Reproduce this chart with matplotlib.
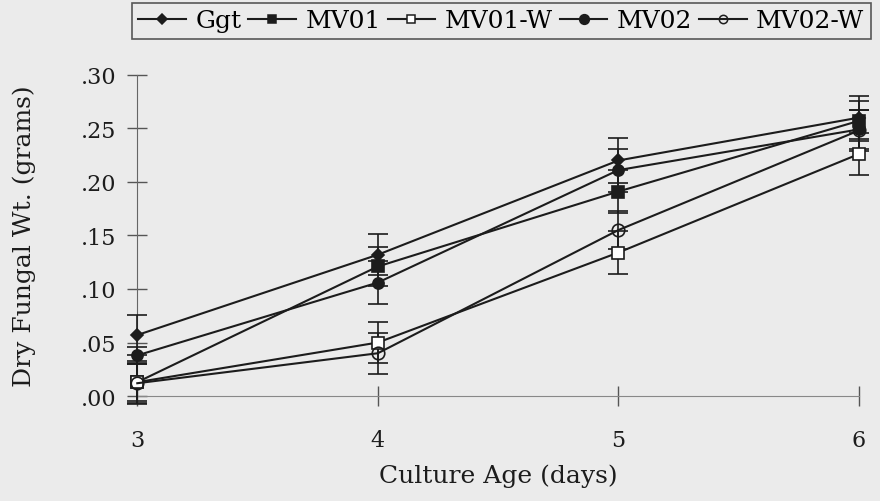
import matplotlib.pyplot as plt
from matplotlib.lines import Line2D

days = [3, 4, 5, 6]
ggt = [0.057, 0.132, 0.220, 0.260]
mv01 = [0.013, 0.121, 0.191, 0.257]
mv01w = [0.013, 0.050, 0.134, 0.226]
mv02 = [0.038, 0.106, 0.211, 0.249]
mv02w = [0.012, 0.040, 0.155, 0.248]

ggt_err = [0.019, 0.019, 0.021, 0.020]
mv01_err = [0.018, 0.018, 0.020, 0.019]
mv01w_err = [0.020, 0.019, 0.020, 0.020]
mv02_err = [0.008, 0.020, 0.020, 0.018]
mv02w_err = [0.018, 0.019, 0.018, 0.019]

yticks = [0.0, 0.05, 0.10, 0.15, 0.20, 0.25, 0.30]
ytick_labels = [".00", ".05", ".10", ".15", ".20", ".25", ".30"]

plt.rcParams['font.family'] = ['DejaVu Serif']
bg = "#ebebeb"
ink = "#1c1c1c"

fig = plt.figure(figsize=(8.8, 5.02), dpi=100, facecolor=bg)
ax = fig.add_axes([0.156, 0.209, 0.820, 0.640], facecolor=bg)

# name, values, errors, marker, size in plot, face, size in legend
series = [
    ("Ggt", ggt, ggt_err, "D", 6, ink, 5),
    ("MV01", mv01, mv01_err, "s", 8, ink, 6),
    ("MV01-W", mv01w, mv01w_err, "s", 9, "white", 6),
    ("MV02", mv02, mv02_err, "o", 8, ink, 7),
    ("MV02-W", mv02w, mv02w_err, "o", 9, "none", 6),
]

handles = []
for name, vals, err, mk, ms, face, lms in series:
    ax.errorbar(days, vals, yerr=err, color=ink, lw=1.5, capsize=7, capthick=1.2,
                elinewidth=1.2, marker=mk, markersize=ms, markerfacecolor=face,
                markeredgecolor=ink, markeredgewidth=1.2, clip_on=False, zorder=3)
    handles.append(Line2D([], [], color=ink, lw=1.5, marker=mk, markersize=lms,
                          markerfacecolor=face, markeredgecolor=ink,
                          markeredgewidth=1.1, label=name))

ax.set_xlim(3, 6)
ax.set_ylim(0, 0.30)
ax.set_xticks(days)
ax.set_yticks(yticks)
ax.set_yticklabels(ytick_labels)
for s in ["top", "right"]:
    ax.spines[s].set_visible(False)
ax.spines["left"].set_color("#666666")
ax.spines["bottom"].set_color("#888888")
ax.tick_params(axis="both", direction="inout", length=14, width=1, color="#555555",
               labelsize=16, labelcolor=ink)
ax.tick_params(axis="x", pad=17)
ax.tick_params(axis="y", pad=8)

ax.set_xlabel("Culture Age (days)", fontsize=18, color=ink, labelpad=9)
ax.set_ylabel("Dry Fungal Wt. (grams)", fontsize=18, color=ink, labelpad=32)

leg = fig.legend(handles=handles, loc="upper left", bbox_to_anchor=(0.150, 0.992),
                 ncol=5, fontsize=18, frameon=True, fancybox=False,
                 handlelength=1.9, handletextpad=0.38, columnspacing=0.28,
                 borderpad=0.25, borderaxespad=0)
leg.get_frame().set_edgecolor("#333333")
leg.get_frame().set_facecolor(bg)
leg.get_frame().set_linewidth(1.2)

fig.savefig("out.png", dpi=100, facecolor=bg)
